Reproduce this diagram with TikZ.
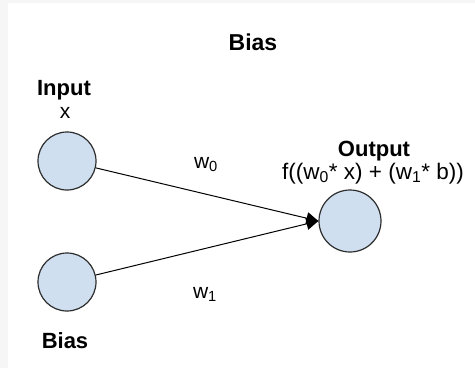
\documentclass[tikz,border=0pt]{standalone}
\usepackage{fontspec}
\setmainfont{Liberation Sans}
\usepackage{tikz}
\usetikzlibrary{arrows.meta}
\definecolor{cellblue}{HTML}{CFDFF0}
\definecolor{rim}{HTML}{2E2E2E}
\definecolor{edgegray}{HTML}{F6F6F6}

\begin{document}
\begin{tikzpicture}[
  x=1pt, y=-1pt,
  neuron/.style={circle, draw=rim, line width=1.2pt, fill=cellblue,
                 minimum size=58pt, inner sep=0pt},
  lbl/.style={font=\fontsize{22}{26}\selectfont\bfseries, anchor=base},
  txt/.style={font=\fontsize{21}{25}\selectfont, anchor=base},
  arr/.style={-{Triangle[length=12pt, width=12pt]}, line width=1pt, draw=black},
]
% ---------------- frame
\fill[edgegray] (0,0) rectangle (475,368);
\fill[white] (8,3) rectangle (475,368);
\useasboundingbox (0,0) rectangle (475,368);
% ---------------- title
\node[lbl, font=\fontsize{23}{27}\selectfont\bfseries] (ttl) at (253,50) {Bias};
% ---------------- neurons
\node[neuron] (input) at (67,161) {};
\node[neuron] (bias) at (67,282) {};
\node[neuron, minimum size=62pt] (output) at (350,221) {};
% ---------------- labels
\node[lbl] (inlbl) at (64,95) {Input};
\node[txt] (xlbl) at (65,118) {x};
\node[lbl] (biaslbl) at (65,348) {Bias};
\node[lbl] (outlbl) at (374,156) {Output};
\node[txt, font=\fontsize{22.5}{27}\selectfont] (fnlbl) at (373,179)
      {f((w\textsubscript{0}* x) + (w\textsubscript{1}* b))};
% ---------------- weighted edges
\draw[arr] (input) -- (output.west);
\draw[arr] (bias) -- (output.west);
\node[txt] (wzero) at (206,168) {w\textsubscript{0}};
\node[txt] (wone) at (205,298) {w\textsubscript{1}};
\end{tikzpicture}
\end{document}
